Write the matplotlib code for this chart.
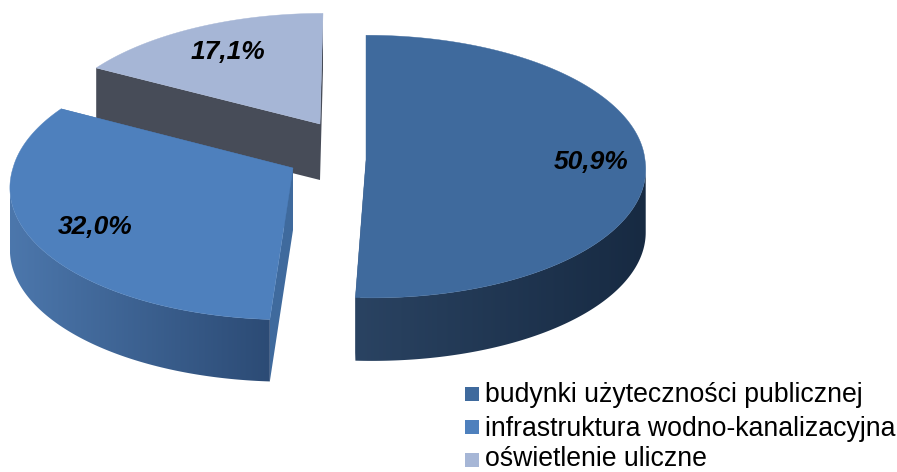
import numpy as np
import matplotlib
matplotlib.use('Agg')
import matplotlib.pyplot as plt
from matplotlib.colors import to_rgb
from matplotlib.patches import Polygon, Rectangle

# dane
kategorie = ['budynki użyteczności publicznej', 'infrastruktura wodno-kanalizacyjna', 'oświetlenie uliczne']
wartosci = [50.9, 32.0, 17.1]
etykiety = ['50,9%', '32,0%', '17,1%']

# kolory
kolor_gora = ['#3F6A9D', '#4E80BD', '#A6B6D6']
kolor_bok_rad = ['#2A4060', '#3F6A9D', '#474C58']
kolor_bok_lewy = ['#2A4362', '#4C77AC', '#474C58']
kolor_bok_prawy = ['#172A42', '#2C4B75', '#474C58']

# geometria: srodek, promienie, perspektywa, glebokosc, skos gornej i dolnej polowy
geom = [
    dict(cx=366, cy=160, rx=279, ry=131, p=0.05, d=63, sg=0, sd=6),
    dict(cx=293, cy=168, rx=280, ry=132, p=0.13, d=62, sg=0, sd=-5),
    dict(cx=320, cy=124, rx=272, ry=125, p=0.13, d=56, sg=3, sd=0),
]
pozycje_etykiet = [(591, 162), (95, 227), (228, 52)]

plt.rcParams['font.family'] = ['Liberation Sans', 'DejaVu Sans']
fig = plt.figure(figsize=(8.97, 4.72), dpi=100)
ax = fig.add_axes([0, 0, 1, 1])


def rzut(kat, g):
    # kat w stopniach, zgodnie z zegarem od gory
    t = np.radians(kat)
    u, v = np.sin(t), np.cos(t)
    s = 1 / (1 + g['p'] * v)
    x = g['cx'] + g['rx'] * u * s + g['sg'] * np.clip(v, 0, None) + g['sd'] * np.clip(-v, 0, None)
    return x, g['cy'] - g['ry'] * v * s


granice = np.concatenate([[0], np.cumsum(wartosci)]) * 3.6

# od tylu do przodu
for i in [2, 1, 0]:
    g = geom[i]
    katy = np.linspace(granice[i], granice[i + 1], 240)
    x, y = rzut(katy, g)
    d = g['d']
    apex = (g['cx'], g['cy'])

    # sciany promieniowe
    for k in (0, -1):
        sciana = [apex, (x[k], y[k]), (x[k], y[k] + d), (apex[0], apex[1] + d)]
        ax.add_patch(Polygon(sciana, closed=True, fc=kolor_bok_rad[i], ec='none', zorder=i * -3 + 7))

    # sciana zewnetrzna z gradientem, tylko czesc widoczna z przodu
    widoczne = np.gradient(x) < 0
    if widoczne.sum() > 1:
        xw, yw = x[widoczne], y[widoczne]
        c0 = np.array(to_rgb(kolor_bok_lewy[i]))
        c1 = np.array(to_rgb(kolor_bok_prawy[i]))
        gradient = np.linspace(c0, c1, 256)[None, :, :]
        obrys = np.vstack([np.column_stack([xw, yw]), np.column_stack([xw, yw + d])[::-1]])
        im = ax.imshow(gradient, extent=(xw.min(), xw.max(), 472, 0), aspect='auto',
                       interpolation='bilinear', zorder=i * -3 + 8)
        im.set_clip_path(Polygon(obrys, closed=True, transform=ax.transData))

    # gora
    gora = np.column_stack([np.r_[apex[0], x], np.r_[apex[1], y]])
    ax.add_patch(Polygon(gora, closed=True, fc=kolor_gora[i], ec=kolor_gora[i], lw=0.3, zorder=i * -3 + 9))

ax.set_xlim(0, 897)
ax.set_ylim(472, 0)
ax.axis('off')

for (px, py), tekst in zip(pozycje_etykiet, etykiety):
    ax.text(px, py, tekst, fontsize=19, fontweight='bold', fontstyle='italic',
            ha='center', va='center', color='black', zorder=20)

# legenda
legenda_y = [394, 427, 460]
bazowe_y = [402, 436, 466]
for i, nazwa in enumerate(kategorie):
    ax.add_patch(Rectangle((465, legenda_y[i] - 7), 14, 14, fc=kolor_gora[i], ec='none', zorder=20))
    ax.text(485, bazowe_y[i], nazwa, fontsize=19.2, ha='left', va='baseline', color='black', zorder=20)

fig.savefig('out.png', dpi=100)
